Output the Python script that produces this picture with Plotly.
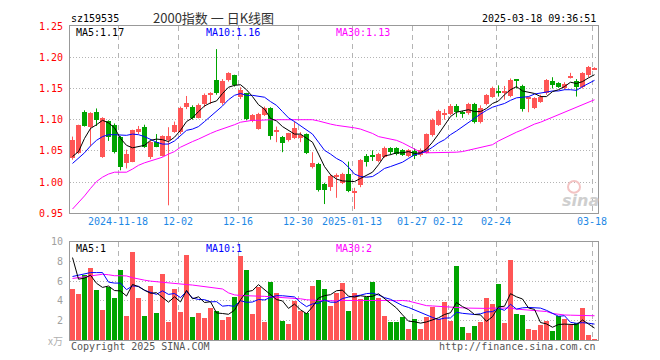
import plotly.graph_objects as go

# ---------------- data ----------------
dates = [
    "2024-11-06","2024-11-07","2024-11-08","2024-11-11","2024-11-12","2024-11-13","2024-11-14","2024-11-15",
    "2024-11-18","2024-11-19","2024-11-20","2024-11-21","2024-11-22","2024-11-25","2024-11-26","2024-11-27",
    "2024-11-28","2024-11-29",
    "2024-12-02","2024-12-03","2024-12-04","2024-12-05","2024-12-06","2024-12-09","2024-12-10","2024-12-11",
    "2024-12-12","2024-12-13","2024-12-16","2024-12-17","2024-12-18","2024-12-19","2024-12-20","2024-12-23",
    "2024-12-24","2024-12-25","2024-12-26","2024-12-27","2024-12-30","2024-12-31",
    "2025-01-02","2025-01-03","2025-01-06","2025-01-07","2025-01-08","2025-01-09","2025-01-10","2025-01-13",
    "2025-01-14","2025-01-15","2025-01-16","2025-01-17","2025-01-20","2025-01-21","2025-01-22","2025-01-23",
    "2025-01-24","2025-01-27",
    "2025-02-05","2025-02-06","2025-02-07","2025-02-10","2025-02-11","2025-02-12","2025-02-13","2025-02-14",
    "2025-02-17","2025-02-18","2025-02-19","2025-02-20","2025-02-21","2025-02-24","2025-02-25","2025-02-26",
    "2025-02-27","2025-02-28",
    "2025-03-03","2025-03-04","2025-03-05","2025-03-06","2025-03-07","2025-03-10","2025-03-11","2025-03-12",
    "2025-03-13","2025-03-14","2025-03-17","2025-03-18",
]

opens = [1.039,1.046,1.113,1.089,1.113,1.040,1.098,1.092,1.072,1.030,
         1.033,1.081,1.088,1.040,1.065,1.042,1.067,1.081,1.080,1.120,
         1.121,1.103,1.1255,1.140,1.163,1.126,1.163,1.171,1.136,1.142,
         1.098,1.085,1.108,1.119,1.081,1.073,1.067,1.071,1.071,1.077,
         1.025,1.029,0.997,0.992,1.008,0.999,1.013,0.983,0.995,1.042,
         1.044,1.034,1.041,1.054,1.054,1.051,1.042,1.050,1.043,1.047,
         1.075,1.092,1.109,1.109,1.122,1.113,1.110,1.125,1.097,1.125,
         1.137,1.145,1.143,1.138,1.163,1.154,1.134,1.119,1.129,1.142,
         1.162,1.158,1.150,1.168,1.162,1.153,1.171,1.181]
highs = [1.073,1.092,1.115,1.112,1.118,1.104,1.099,1.094,1.074,1.052,
         1.084,1.090,1.092,1.066,1.077,1.075,1.088,1.097,1.121,1.138,
         1.123,1.126,1.142,1.144,1.213,1.165,1.176,1.172,1.152,1.143,
         1.109,1.111,1.121,1.120,1.089,1.074,1.079,1.097,1.080,1.078,
         1.048,1.031,0.999,1.013,1.014,1.015,1.033,0.991,1.037,1.045,
         1.051,1.047,1.057,1.056,1.056,1.053,1.053,1.054,1.054,1.078,
         1.102,1.116,1.117,1.125,1.125,1.114,1.127,1.127,1.123,1.141,
         1.153,1.155,1.154,1.166,1.165,1.156,1.137,1.136,1.140,1.165,
         1.168,1.160,1.160,1.175,1.165,1.176,1.186,1.184]
lows = [1.036,1.045,1.089,1.058,1.090,1.039,1.066,1.046,1.019,1.022,
        1.032,1.077,1.055,1.037,1.056,1.041,0.963,1.079,1.077,1.117,
        1.100,1.102,1.120,1.125,1.140,1.124,1.161,1.153,1.133,1.099,
        1.096,1.084,1.106,1.068,1.064,1.048,1.065,1.069,1.064,1.045,
        1.022,0.985,0.965,0.986,0.975,0.997,0.984,0.957,0.992,1.025,
        1.034,1.032,1.039,1.044,1.043,1.042,1.040,1.037,1.041,1.046,
        1.073,1.090,1.100,1.107,1.104,1.103,1.108,1.094,1.094,1.123,
        1.135,1.137,1.132,1.136,1.150,1.113,1.112,1.117,1.127,1.140,
        1.150,1.151,1.148,1.166,1.137,1.150,1.168,1.180]
closes = [1.067,1.091,1.090,1.111,1.099,1.103,1.073,1.048,1.025,1.045,
          1.083,1.085,1.057,1.065,1.057,1.074,1.074,1.092,1.118,1.127,
          1.102,1.124,1.1396,1.141,1.142,1.162,1.175,1.155,1.147,1.1005,
          1.107,1.109,1.119,1.0745,1.082,1.062,1.078,1.087,1.076,1.046,
          1.031,0.987,0.987,1.010,1.012,1.013,0.986,0.985,1.036,1.033,
          1.041,1.045,1.054,1.049,1.045,1.044,1.051,1.042,1.051,1.077,
          1.100,1.114,1.110,1.122,1.113,1.109,1.125,1.096,1.118,1.139,
          1.151,1.144,1.144,1.164,1.162,1.117,1.135,1.134,1.136,1.163,
          1.156,1.153,1.157,1.169,1.153,1.174,1.184,1.182]

ma5 = [1.041,1.049,1.070,1.086,1.092,1.099,1.095,1.087,1.070,1.059,
       1.055,1.057,1.059,1.067,1.069,1.068,1.065,1.072,1.083,1.097,
       1.103,1.113,1.122,1.127,1.130,1.142,1.152,1.155,1.156,1.148,
       1.137,1.124,1.117,1.102,1.098,1.089,1.083,1.077,1.077,1.070,
       1.064,1.045,1.025,1.012,1.005,1.002,1.002,1.001,1.006,1.011,
       1.016,1.028,1.042,1.044,1.047,1.047,1.049,1.046,1.047,1.053,
       1.064,1.077,1.090,1.105,1.112,1.114,1.116,1.113,1.113,1.118,
       1.126,1.130,1.140,1.148,1.153,1.146,1.144,1.142,1.137,1.137,
       1.145,1.148,1.153,1.160,1.158,1.161,1.167,1.172]
ma10 = [1.030,1.038,1.047,1.058,1.067,1.073,1.076,1.076,1.076,1.075,
        1.077,1.076,1.073,1.068,1.064,1.061,1.061,1.066,1.075,1.083,
        1.085,1.089,1.097,1.105,1.113,1.122,1.132,1.139,1.142,1.139,
        1.139,1.138,1.136,1.129,1.123,1.113,1.103,1.097,1.090,1.084,
        1.077,1.064,1.051,1.045,1.038,1.033,1.024,1.013,1.009,1.008,
        1.009,1.015,1.022,1.025,1.029,1.032,1.038,1.044,1.046,1.050,
        1.056,1.063,1.068,1.076,1.082,1.089,1.096,1.102,1.109,1.115,
        1.120,1.123,1.126,1.131,1.135,1.136,1.137,1.141,1.143,1.145,
        1.146,1.146,1.148,1.148,1.147,1.153,1.158,1.163]
ma30 = [0.957,0.967,0.978,0.990,1.001,1.008,1.013,1.016,1.016,1.016,
        1.021,1.027,1.031,1.034,1.037,1.040,1.045,1.049,1.056,1.061,
        1.065,1.069,1.074,1.078,1.082,1.085,1.088,1.092,1.096,1.098,
        1.099,1.099,1.100,1.100,1.100,1.100,1.100,1.100,1.101,1.101,
        1.100,1.098,1.095,1.093,1.091,1.090,1.089,1.087,1.085,1.082,
        1.078,1.073,1.071,1.069,1.067,1.063,1.058,1.052,1.048,1.047,
        1.047,1.047,1.047,1.048,1.048,1.049,1.051,1.053,1.055,1.057,
        1.060,1.066,1.071,1.076,1.080,1.084,1.089,1.093,1.096,1.100,
        1.104,1.107,1.111,1.115,1.119,1.124,1.128,1.132]

volumes = [5.2,4.7,6.6,7.3,5.1,3.1,5.4,4.3,7.1,2.5,
           9.0,4.3,2.5,5.5,2.8,6.7,1.8,5.2,2.9,8.7,
           2.4,2.8,2.3,3.3,3.0,2.1,2.4,4.4,8.6,7.1,
           2.7,5.4,1.8,5.9,4.8,2.0,1.6,4.0,3.0,2.8,
           5.5,6.1,5.2,3.5,4.8,5.8,3.0,4.8,4.15,4.4,
           5.9,4.3,2.5,1.8,1.8,2.4,1.1,2.2,1.1,2.4,
           3.4,2.2,3.9,2.0,7.6,1.3,0.7,1.4,1.8,4.3,
           3.7,5.7,1.7,8.2,2.7,2.6,1.1,1.0,1.5,2.0,
           0.9,2.5,2.2,1.5,1.7,3.3,0.5,0.1]
vma5 = [8.4,6.2,6.3,6.6,5.78,5.36,5.5,5.04,5.0,4.48,
        5.66,5.44,5.08,4.76,4.82,4.36,3.86,4.4,3.88,5.06,
        4.2,4.4,3.82,3.9,2.76,2.7,2.62,3.04,4.1,4.92,
        5.04,5.64,5.12,4.58,4.12,3.98,3.22,3.66,3.08,2.68,
        3.38,4.28,4.52,4.62,5.02,5.08,4.46,4.38,4.51,4.43,
        4.45,4.71,4.25,3.78,3.26,2.56,1.92,1.86,1.72,1.84,
        2.04,2.26,2.6,2.78,3.82,3.4,3.1,2.6,2.56,1.9,
        2.38,3.38,3.44,4.72,4.4,4.18,3.26,3.12,1.78,1.64,
        1.3,1.58,1.62,1.62,1.56,2.04,1.64,1.22]
vma10 = [6.47,6.6,6.8,6.87,6.87,6.87,5.9,5.8,5.8,5.13,
         5.51,5.47,5.06,4.88,4.65,5.01,4.65,4.74,4.32,4.94,
         4.28,4.13,4.11,3.89,3.91,3.45,3.51,3.43,4.0,3.84,
         3.87,4.13,4.08,4.34,4.52,4.51,4.43,4.39,3.83,3.4,
         3.68,3.75,4.09,3.85,3.85,4.23,4.37,4.45,4.57,4.73,
         4.77,4.59,4.32,4.15,3.85,3.51,3.32,3.06,2.75,2.55,
         2.3,2.09,2.23,2.25,2.83,2.72,2.68,2.6,2.67,2.86,
         2.89,3.24,3.02,3.64,3.15,3.28,3.32,3.28,3.25,3.02,
         2.74,2.42,2.47,1.8,1.7,1.77,1.71,1.62]
vma30 = [6.27,6.35,6.45,6.53,6.6,6.7,6.65,6.55,6.55,6.53,
         6.35,6.2,6.1,6.0,5.93,5.88,5.82,5.77,5.72,5.65,
         5.6,5.53,5.45,5.38,5.3,5.2,4.8,4.6,4.53,4.52,
         4.5,4.48,4.45,4.4,4.37,4.33,4.3,4.27,4.2,4.1,
         4.03,4.03,4.0,3.97,4.0,4.03,4.03,4.05,4.06,4.08,
         4.1,4.08,4.05,4.03,4.0,4.03,3.97,3.8,3.6,3.5,
         3.47,3.42,3.4,3.37,3.33,3.28,3.25,3.22,3.2,3.22,
         3.25,3.27,3.27,3.25,3.15,3.1,3.05,3.0,2.95,2.9,
         2.7,2.6,2.55,2.53,2.5,2.48,2.47,2.47]

tick_dates = ["2024-11-18","2024-12-02","2024-12-16","2024-12-30","2025-01-13",
              "2025-01-27","2025-02-12","2025-02-24","2025-03-18"]
tick_labels = ["2024-11-18","12-02","12-16","12-30","2025-01-13",
               "01-27","02-12","02-24","03-18"]
price_ticks = [0.95,1.00,1.05,1.10,1.15,1.20,1.25]
vol_ticks = [2,4,6,8,10]

code = "sz159535"
title = "2000指数 一 日K线图"
stamp = "2025-03-18 09:36:51"

# ---------------- layout helpers ----------------
OFF = 8                      # page body margin of the html page
W, H = 660 - OFF, 360 - OFF  # figure size so that page = window
L, R, T, B = 70 - OFF, 62, 20 - OFF, 20
PW, PH = W - L - R, H - T - B
def px(x):                   # x given in window pixels
    return (x - OFF - L) / PW
def py(y):                   # y given in window pixels
    return (H - B - (y - OFF)) / PH

RED = "#ff5656"
GREEN = "#00a400"
MONO = "DejaVu Sans Mono"

n = len(dates)
idx = list(range(n))
xc = [i - 1/12 for i in idx]          # candle centre within the 6px slot
up = [c >= o for o, c in zip(opens, closes)]
colors = [RED if u else GREEN for u in up]
base = [min(o, c) for o, c in zip(opens, closes)]
body = [max(abs(c - o), 0.0016) for o, c in zip(opens, closes)]

fig = go.Figure()

# wicks
for flag, col in ((True, RED), (False, GREEN)):
    wx, wy = [], []
    for i in idx:
        if up[i] == flag:
            wx += [xc[i], xc[i], None]
            wy += [highs[i], lows[i], None]
    fig.add_trace(go.Scatter(x=wx, y=wy, mode="lines", line=dict(color=col, width=1),
                             xaxis="x", yaxis="y", hoverinfo="skip"))

# bodies
fig.add_trace(go.Bar(x=idx, y=body, base=base, width=5/6, offset=-0.5,
                     marker=dict(color=colors, line=dict(width=0)), xaxis="x", yaxis="y"))

# price MAs
for series, col in ((ma30, "#ff00ff"), (ma10, "#0000ff"), (ma5, "#000000")):
    fig.add_trace(go.Scatter(x=xc, y=series, mode="lines", line=dict(color=col, width=1),
                             xaxis="x", yaxis="y"))

# volume
fig.add_trace(go.Bar(x=idx, y=volumes, width=5/6, offset=-0.5,
                     marker=dict(color=colors, line=dict(width=0)), xaxis="x2", yaxis="y2"))
for series, col in ((vma30, "#ff00ff"), (vma10, "#0000ff"), (vma5, "#000000")):
    fig.add_trace(go.Scatter(x=xc, y=series, mode="lines", line=dict(color=col, width=1),
                             xaxis="x2", yaxis="y2"))

tickpos = [dates.index(d) - 0.5 for d in tick_dates]

grid_common = dict(showgrid=True, gridcolor="#b4b4b4", gridwidth=1, zeroline=False,
                   showline=True, mirror=True, linecolor="#999999", linewidth=1, ticks="")

fig.update_layout(
    width=W, height=H, margin=dict(l=L, r=R, t=T, b=B),
    paper_bgcolor="white", plot_bgcolor="white", showlegend=False, bargap=0,
    xaxis=dict(domain=[0, 1], anchor="y", range=[-0.5, n - 0.5], tickmode="array",
               tickvals=tickpos, ticktext=tick_labels, griddash="5px,4px",
               tickfont=dict(family=MONO, size=10, color="#1e88e5"), ticklabelstandoff=-1,
               **grid_common),
    xaxis2=dict(domain=[0, 1], anchor="y2", range=[-0.5, n - 0.5], tickmode="array",
                tickvals=tickpos, showticklabels=False, griddash="5px,4px", **grid_common),
    yaxis=dict(domain=[py(211), 1], anchor="x", range=[price_ticks[0], price_ticks[-1]],
               tickmode="array", tickvals=price_ticks, ticktext=[f"{v:.2f}" for v in price_ticks],
               tickfont=dict(family=MONO, size=10, color="#ff0000"), griddash="1px,2px",
               ticklabelstandoff=4, **grid_common),
    yaxis2=dict(domain=[0, py(240)], anchor="x2", range=[0, vol_ticks[-1]],
                tickmode="array", tickvals=vol_ticks, ticktext=[str(v) for v in vol_ticks],
                tickfont=dict(family=MONO, size=10, color="#a0a0a0"), griddash="1px,2px",
                ticklabelstandoff=4, **grid_common),
)

def note(text, x, y, color, xanchor="left", size=10, family=MONO, **kw):
    fig.add_annotation(text=text, x=px(x), y=py(y), xref="paper", yref="paper",
                       xanchor=xanchor, yanchor="middle", showarrow=False, borderpad=0,
                       font=dict(family=family, size=size, color=color, **kw))

note(code, 70, 12, "#000000")
note(title, 213, 11, "#333333", xanchor="center", size=13, family="Noto Sans CJK SC")
note(stamp, 597, 12, "#000000", xanchor="right")

note(f"MA5:{ma5[-1]:.2f}", 75, 27, "#000000")
note(f"MA10:{ma10[-1]:.2f}", 205, 27, "#0000ff")
note(f"MA30:{ma30[-1]:.2f}", 335, 27, "#ff00ff")

note(f"MA5:{int(vma5[-1])}", 75, 247, "#000000")
note(f"MA10:{int(vma10[-1])}", 205, 247, "#0000ff")
note(f"MA30:{int(vma30[-1])}", 335, 247, "#ff00ff")

note("x万", 64, 340, "#b0b0b0", xanchor="right", size=10, family="Noto Sans CJK SC")
note("Copyright 2025 SINA.COM", 70, 347, "#555555")
note("http://finance.sina.com.cn", 597, 347, "#555555", xanchor="right")

# sina watermark
fig.add_shape(type="circle", xref="paper", yref="paper",
              x0=px(568), x1=px(580), y0=py(190), y1=py(178),
              line=dict(color="#f3c4c4", width=2), fillcolor="rgba(0,0,0,0)")
note("sina", 580, 198, "#cfcfcf", xanchor="center", size=16, family="DejaVu Sans",
     style="italic", weight="bold")

fig.write_html("out.html", config={"displayModeBar": False})
